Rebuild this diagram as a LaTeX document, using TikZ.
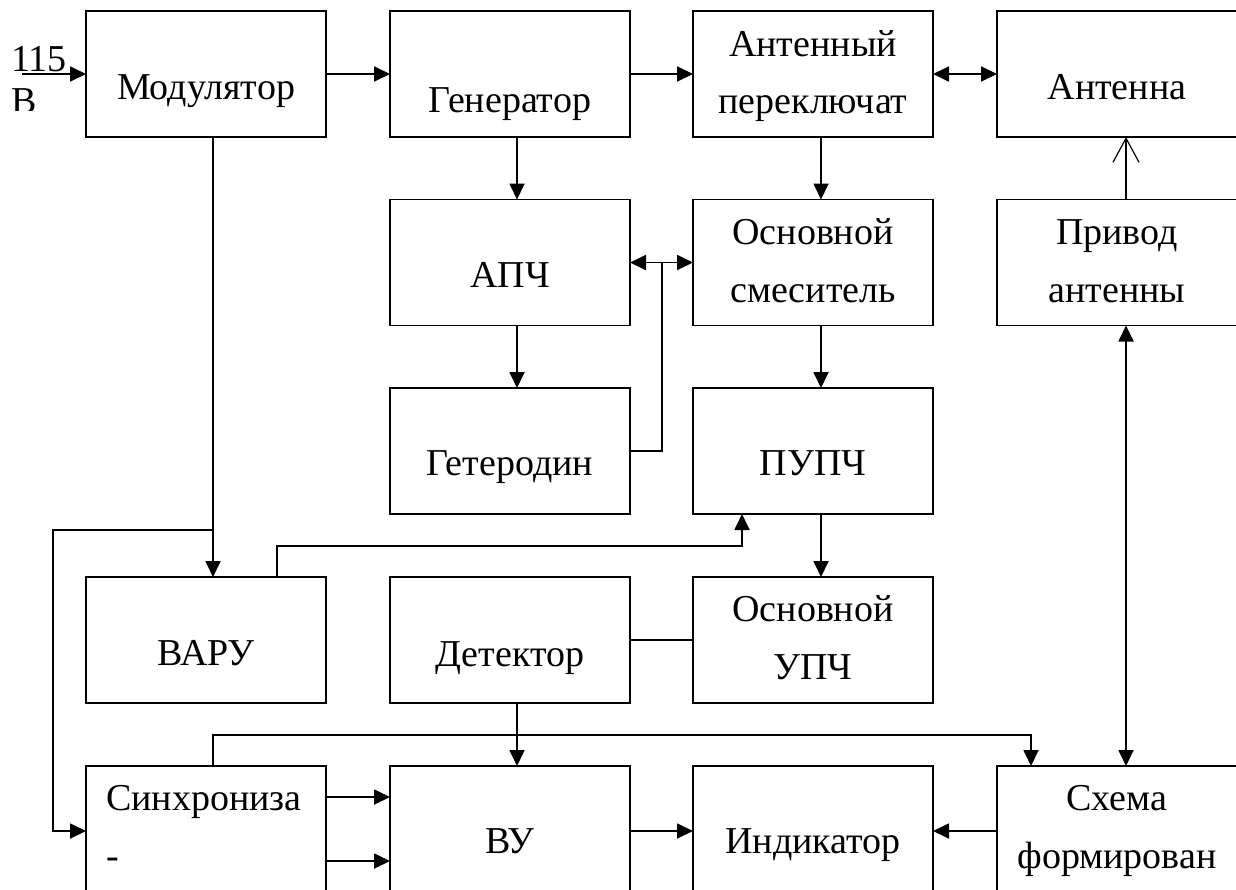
\documentclass[tikz,border=0pt]{standalone}
\usepackage{fontspec}
\setmainfont{Liberation Serif}
\usetikzlibrary{arrows.meta,calc}
\begin{document}
\begin{tikzpicture}[x=1pt,y=-1pt,
  box/.style={draw,line width=1.8pt,minimum width=240pt,minimum height=126pt,inner sep=0pt,outer sep=0pt},
  lowbox/.style={box,minimum height=130pt},
  lbl/.style={anchor=base,font=\fontsize{38}{46}\selectfont,inner sep=0pt},
  conn/.style={line width=1.8pt},
  arr/.style={conn,-{Triangle[length=16pt,width=15pt]}},
  darr/.style={conn,{Triangle[length=16pt,width=15pt]}-{Triangle[length=16pt,width=15pt]}},
  openarr/.style={conn,-{Straight Barb[length=24pt,width=26pt,line width=1.2pt]}}
]
\useasboundingbox (0,0) rectangle (1236,889);
\fill[white] (0,0) rectangle (1236,889);

% boxes
\node[box] (mod) at (206,74) {};
\node[box] (gen) at (510,74) {};
\node[box] (asw) at (813,74) {};
\node[box] (ant) at (1117,74) {};
\node[box] (apch) at (510,262.5) {};
\node[box] (mix) at (813,262.5) {};
\node[box] (drv) at (1117,262.5) {};
\node[box] (het) at (510,451) {};
\node[box] (pupch) at (813,451) {};
\node[box] (varu) at (206,640) {};
\node[box] (det) at (510,640) {};
\node[box] (upch) at (813,640) {};
\node[lowbox] (sync) at (206,831) {};
\node[lowbox] (vu) at (510,831) {};
\node[lowbox] (ind) at (813,831) {};
\node[lowbox] (fs) at (1117,831) {};

% labels
\node[lbl] (tmod) at (206,99) {Модулятор};
\node[lbl] (tgen) at (510,112) {Генератор};
\node[lbl] (tasw1) at (813,56) {Антенный};
\node[lbl] (tasw2) at (813,113) {переключат};
\node[lbl] (tant) at (1117,99) {Антенна};
\node[lbl] (tapch) at (510,287) {АПЧ};
\node[lbl] (tmix1) at (813,244) {Основной};
\node[lbl] (tmix2) at (813,302) {смеситель};
\node[lbl] (tdrv1) at (1117,244) {Привод};
\node[lbl] (tdrv2) at (1117,302) {антенны};
\node[lbl] (thet) at (510,475) {Гетеродин};
\node[lbl] (tpupch) at (813,475) {ПУПЧ};
\node[lbl] (tvaru) at (206,665) {ВАРУ};
\node[lbl] (tdet) at (510,666) {Детектор};
\node[lbl] (tupch1) at (813,621) {Основной};
\node[lbl] (tupch2) at (813,679) {УПЧ};
\node[lbl,anchor=base west] (tsync1) at (106,810) {Синхрониза};
\node[lbl,anchor=base west] (tsync2) at (106,868) {-};
\node[lbl] (tvu) at (510,853) {ВУ};
\node[lbl] (tind) at (813,853) {Индикатор};
\node[lbl] (tfs1) at (1117,810) {Схема};
\node[lbl] (tfs2) at (1117,868) {формирован};
\node[lbl,anchor=base west] (t115) at (11,71) {115};
\begin{scope}
  \clip (0,80) rectangle (80,110);
  \node[lbl,anchor=base west] (tb) at (11,113) {В};
\end{scope}

% helper coordinates
\coordinate (in) at (22,74);
\coordinate (xa) at (517,0);
\coordinate (xb) at (821,0);
\coordinate (xm) at (213,0);
\coordinate (xl) at (53,0);
\coordinate (xv) at (277,0);
\coordinate (xp) at (742,0);
\coordinate (xh) at (662,0);
\coordinate (xd) at (1126,0);
\coordinate (xf) at (1031,0);
\coordinate (jm) at (213,530);
\coordinate (yv) at (0,546);
\coordinate (ys) at (0,735);
\coordinate (y1) at (0,797);
\coordinate (y2) at (0,861);

% connectors
\draw[arr] (in) -- (mod.west);
\draw[arr] (mod.east) -- (gen.west);
\draw[arr] (gen.east) -- (asw.west);
\draw[darr] (asw.east) -- (ant.west);
\draw[arr] (gen.south -| xa) -- (apch.north -| xa);
\draw[arr] (apch.south -| xa) -- (het.north -| xa);
\draw[arr] (asw.south -| xb) -- (mix.north -| xb);
\draw[arr] (mix.south -| xb) -- (pupch.north -| xb);
\draw[arr] (pupch.south -| xb) -- (upch.north -| xb);
\draw[darr] (apch.east) -- (mix.west);
\draw[conn] (het.east) -| (apch.east -| xh);
\draw[arr] (mod.south -| xm) -- (varu.north -| xm);
\draw[arr] (jm) -| (xl |- sync.west) -- (sync.west);
\draw[arr] (varu.north -| xv) |- (yv -| xp) -- (pupch.south -| xp);
\draw[conn] (det.east) -- (upch.west);
\draw[arr] (det.south -| xa) -- (vu.north -| xa);
\draw[arr] (sync.north -| xm) |- (ys -| xf) -- (fs.north -| xf);
\draw[darr] (drv.south -| xd) -- (fs.north -| xd);
\draw[openarr] (drv.north -| xd) -- (ant.south -| xd);
\draw[arr] (sync.east |- y1) -- (vu.west |- y1);
\draw[arr] (sync.east |- y2) -- (vu.west |- y2);
\draw[arr] (vu.east) -- (ind.west);
\draw[arr] (fs.west) -- (ind.east);
\end{tikzpicture}
\end{document}
